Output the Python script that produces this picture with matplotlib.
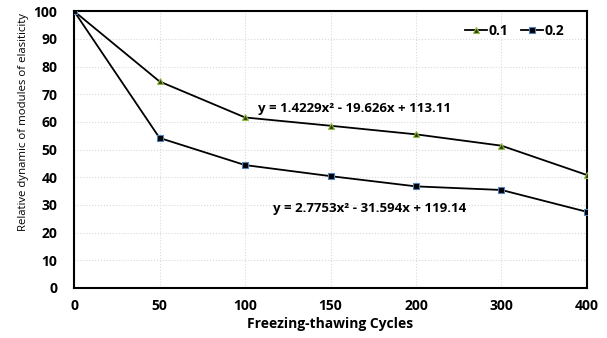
import matplotlib
matplotlib.use("Agg")
import matplotlib.pyplot as plt

cycles = ["0", "50", "100", "150", "200", "300", "400"]
series_01 = [100, 74.6, 61.6, 58.6, 55.5, 51.4, 40.8]
series_02 = [100, 54.2, 44.4, 40.4, 36.7, 35.4, 27.5]
eq_01 = "y = 1.4229x² - 19.626x + 113.11"
eq_02 = "y = 2.7753x² - 31.594x + 119.14"

plt.rcParams["font.family"] = ["Open Sans", "DejaVu Sans"]

fig = plt.figure(figsize=(6.07, 3.38), dpi=100)
ax = fig.add_axes([0.122, 0.148, 0.845, 0.819])

x = list(range(len(cycles)))
ax.plot(x, series_01, color="black", lw=1.3, marker="^", ms=5,
        mfc="#2f3a10", mec="#8dbb3c", mew=0.8, label="0.1", zorder=3)
ax.plot(x, series_02, color="black", lw=1.3, marker="s", ms=5,
        mfc="black", mec="#4f81bd", mew=0.8, label="0.2", zorder=3)

ax.set_xlim(0, len(cycles) - 1)
ax.set_ylim(0, 100)
ax.set_xticks(x)
ax.set_xticklabels(cycles)
ax.set_yticks(range(0, 101, 10))
ax.grid(True, color="#d9d9d9", ls=":", lw=0.8)
for s in ax.spines.values():
    s.set_linewidth(1.5)
    s.set_color("black")
ax.tick_params(length=0, labelsize=10)
ax.tick_params(axis="y", pad=12)
ax.tick_params(axis="x", pad=8)
for lbl in ax.get_xticklabels() + ax.get_yticklabels():
    lbl.set_fontweight("bold")

ax.set_xlabel("Freezing-thawing Cycles", fontsize=10, fontweight="bold", labelpad=3)
ax.set_ylabel("Relative dynamic of modules of elasiticity", fontsize=8.2)
ax.yaxis.set_label_coords(-0.088, 0.6)

ax.text(2.15, 64.8, eq_01, fontsize=9.5, fontweight="bold", va="center", ha="left")
ax.text(2.33, 28.8, eq_02, fontsize=9.5, fontweight="bold", va="center", ha="left")

leg = ax.legend(loc="upper right", ncol=2, frameon=False, fontsize=10,
                handlelength=1.6, columnspacing=0.9, handletextpad=0.1,
                bbox_to_anchor=(0.98, 1.0))
for t in leg.get_texts():
    t.set_fontweight("bold")

fig.savefig("out.png", dpi=100)
